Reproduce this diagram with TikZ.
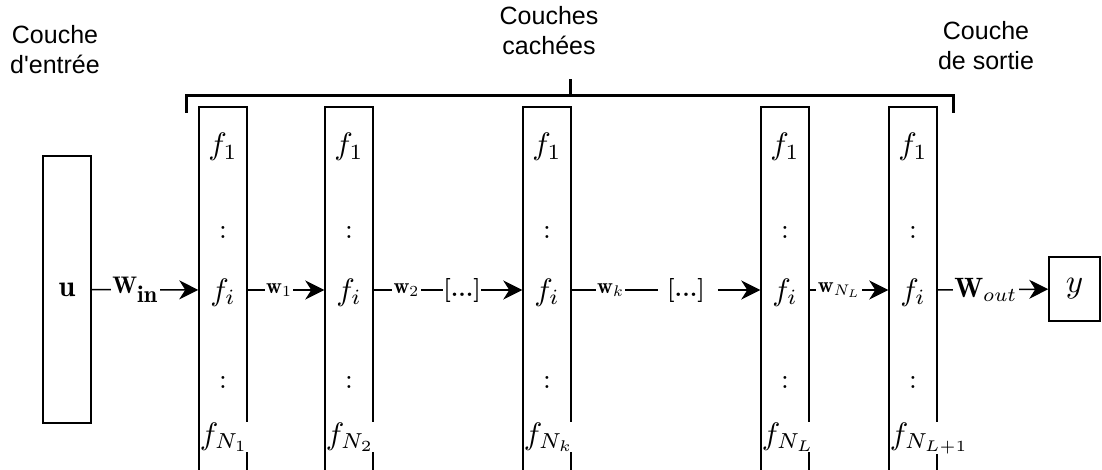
\documentclass[tikz,border=0pt]{standalone}
\usepackage{graphicx}
\usepackage{fontspec}
\newfontfamily\captfont{Liberation Sans}
\usetikzlibrary{arrows.meta}
% math set at 10pt and scaled up
\newcommand\mth[2]{\scalebox{#1}{$#2$}}

\begin{document}
\begin{tikzpicture}[x=1pt,y=-1pt,
  box/.style={draw,line width=1.5pt,inner sep=0pt},
  layer/.style={box,minimum width=48pt,minimum height=366pt},
  unit/.style={inner sep=0pt,fill=white},
  capt/.style={align=center,font=\captfont\fontsize{25}{30}\selectfont,inner sep=0pt},
  conn/.style={line width=1.5pt},
  arr/.style={conn,-{Stealth[length=19pt,width=19pt,inset=6pt]}},
  wlab/.style={fill=white,inner sep=1.5pt},
  dots/.style={fill=white,inner sep=0pt,font=\fontsize{24}{28}\selectfont\bfseries},
  brace/.style={line width=3pt}
]
\useasboundingbox (0,0) rectangle (1102,470);
\clip (0,0) rectangle (1102,470);

% titles (anchored at the baseline of their last line)
\node[capt,anchor=base] (tin)  at (55,74)  {Couche\\d'entrée};
\node[capt,anchor=base] (thid) at (549,55) {Couches\\cachées};
\node[capt,anchor=base] (tout) at (986,70) {Couche\\de sortie};

% bracket over the hidden and output layers
\coordinate (bl) at (186,113);
\coordinate (br) at (953,113);
\coordinate (bm) at (570,96);
\draw[brace] (bl) -- (bl |- bm) -- (br |- bm) -- (br);
\draw[brace] (bm) -- ++(0,-17);

% input and output
\node[box,minimum width=48pt,minimum height=267pt] (in) at (67,289.5) {};
\node[unit,fill=none] (u) at (in.center) {\mth{3.0}{\mathbf{u}}};
\node[box,minimum width=51pt,minimum height=64pt] (out) at (1074.5,289) {};
\node[unit,fill=none] (y) at (out.center) {\mth{3.3}{y}};

% layers
\foreach \n/\x/\s in {1/223/N_1,2/349/N_2,3/547/N_k,4/785/N_L,5/913/N_{L+1}}{
  \node[layer] (L\n) at (\x,290) {};
  \node[unit,anchor=base] (L\n a) at (\x,155) {\mth{3.1}{f_1}};
  \node[unit,anchor=base] (L\n b) at (\x,239) {\mth{2.8}{:}};
  \node[unit,anchor=base] (L\n c) at (\x,300) {\mth{3.1}{f_i}};
  \node[unit,anchor=base] (L\n d) at (\x,388) {\mth{2.8}{:}};
  \node[unit,anchor=base west] (L\n e) at ([xshift=1.5pt]L\n.west |- 0,444) {\mth{3.1}{f_{\s}}};
}

% connectors
\draw[arr] (in) -- node[wlab,pos=0.41] (win) {\mth{2.4}{\mathbf{W}_{\textstyle\mathbf{in}}}} (L1);
\draw[arr] (L1) -- node[wlab,pos=0.41] (w1) {\mth{2.2}{\mathbf{w}_1}} (L2);
\draw[arr] (L2) -- node[wlab,pos=0.22] (w2) {\mth{2.2}{\mathbf{w}_2}}
  node[dots,pos=0.595] (d1) {[...]} (L3);
\node[dots] (d2) at (686,290) {[...]};
\draw[conn] (L3) -- node[wlab,pos=0.45] (wk) {\mth{2.2}{\mathbf{w}_k}} ([xshift=-9pt]d2.west);
\draw[arr] ([xshift=13pt]d2.east) -- (L4);
\draw[arr] (L4) -- node[wlab,pos=0.375] (wl) {\mth{2.2}{\mathbf{w}_{N_L}}} (L5);
\draw[arr] (L5) -- node[wlab,pos=0.435] (wout) {\mth{2.8}{\mathbf{W}_{out}}} (out);
\end{tikzpicture}
\end{document}
